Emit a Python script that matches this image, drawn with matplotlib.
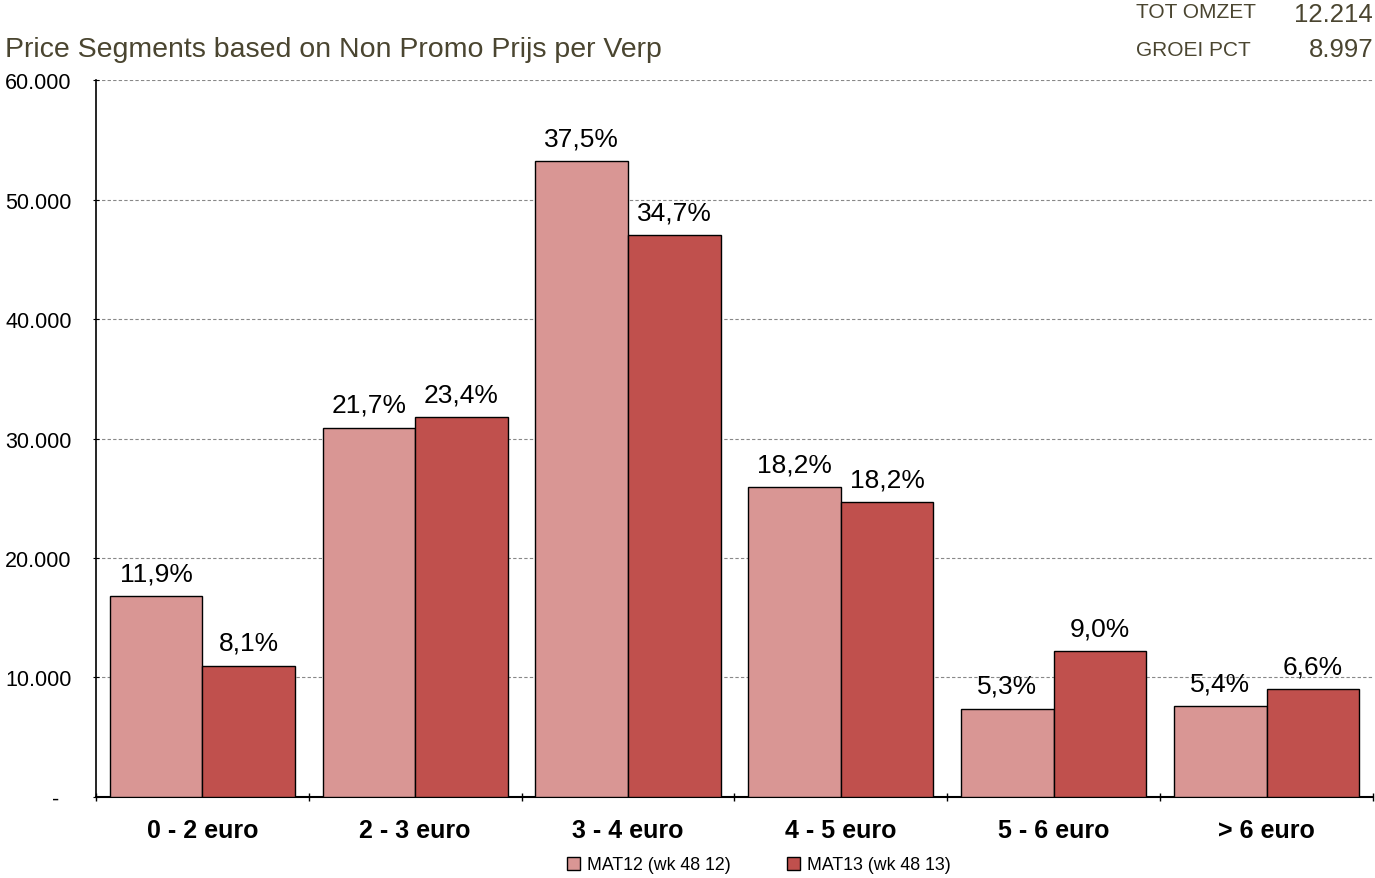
import matplotlib
matplotlib.use("Agg")
import matplotlib.pyplot as plt
from matplotlib.patches import Patch
from matplotlib.ticker import FuncFormatter
import numpy as np

plt.rcParams['font.family'] = ['Liberation Sans', 'DejaVu Sans']

categories = ["0 - 2 euro", "2 - 3 euro", "3 - 4 euro", "4 - 5 euro", "5 - 6 euro", "> 6 euro"]
series_names = ["MAT12 (wk 48 12)", "MAT13 (wk 48 13)"]
mat12 = [16800, 30900, 53200, 25900, 7400, 7600]
mat13 = [11000, 31800, 47000, 24700, 12200, 9000]
mat12_labels = ["11,9%", "21,7%", "37,5%", "18,2%", "5,3%", "5,4%"]
mat13_labels = ["8,1%", "23,4%", "34,7%", "18,2%", "9,0%", "6,6%"]
title = "Price Segments based on Non Promo Prijs per Verp"
info_labels = ["TOT OMZET", "GROEI PCT"]
info_values = ["12.214", "8.997"]

c12 = "#D99694"
c13 = "#C0504D"
txtc = "#4A4530"

fig = plt.figure(figsize=(13.75, 8.79), dpi=100)
ax = fig.add_axes([0.0698, 0.0922, 0.9287, 0.8156])

x = np.arange(len(categories))
w = 0.435
b1 = ax.bar(x - w/2, mat12, w, color=c12, edgecolor="black", linewidth=1, zorder=3)
b2 = ax.bar(x + w/2, mat13, w, color=c13, edgecolor="black", linewidth=1, zorder=3)

for bars, labs in ((b1, mat12_labels), (b2, mat13_labels)):
    for r, l in zip(bars, labs):
        ax.text(r.get_x() + r.get_width()/2, r.get_height() + 900, l,
                ha="center", va="bottom", fontsize=19, color="black", zorder=4)

ax.set_xlim(-0.5, len(categories) - 0.5)
ax.set_ylim(0, 60000)
ax.set_yticks(np.arange(0, 60001, 10000))
ax.yaxis.set_major_formatter(FuncFormatter(lambda v, p: "-  " if v == 0 else f"{int(v):,}".replace(",", ".")))
ax.yaxis.grid(True, linestyle=(0, (3, 2)), color="#888888", linewidth=0.8, zorder=0)
ax.set_xticks(x)
ax.set_xticklabels(categories, fontsize=18, fontweight="bold")
ax.set_xticks(np.arange(-0.5, len(categories)), minor=True)
ax.tick_params(axis="x", which="major", length=0, pad=15)
ax.tick_params(axis="x", which="minor", length=6, width=1, direction="inout")
ax.tick_params(axis="y", labelsize=15.5, length=5, direction="inout", pad=15)
for s in ["top", "right"]:
    ax.spines[s].set_visible(False)
ax.spines["left"].set_linewidth(1.2)
ax.spines["bottom"].set_linewidth(1.5)

fig.text(5/1375, 1 - 50/879, title, fontsize=20.5, color=txtc, ha="left", va="center")
fig.text(1136/1375, 1 - 13/879, info_labels[0], fontsize=15, color=txtc, ha="left", va="center")
fig.text(1136/1375, 1 - 50/879, info_labels[1], fontsize=15, color=txtc, ha="left", va="center")
fig.text(1373/1375, 1 - 15/879, info_values[0], fontsize=18.5, color=txtc, ha="right", va="center")
fig.text(1373/1375, 1 - 50/879, info_values[1], fontsize=18.5, color=txtc, ha="right", va="center")

handles = [Patch(facecolor=c12, edgecolor="black"), Patch(facecolor=c13, edgecolor="black")]
fig.legend(handles, series_names, loc="center", bbox_to_anchor=(759/1375, 1 - 866/879), ncol=2,
           frameon=False, fontsize=12.8, handlelength=0.7, handleheight=0.7,
           handletextpad=0.4, columnspacing=3.2)

fig.savefig("out.png", dpi=100)
